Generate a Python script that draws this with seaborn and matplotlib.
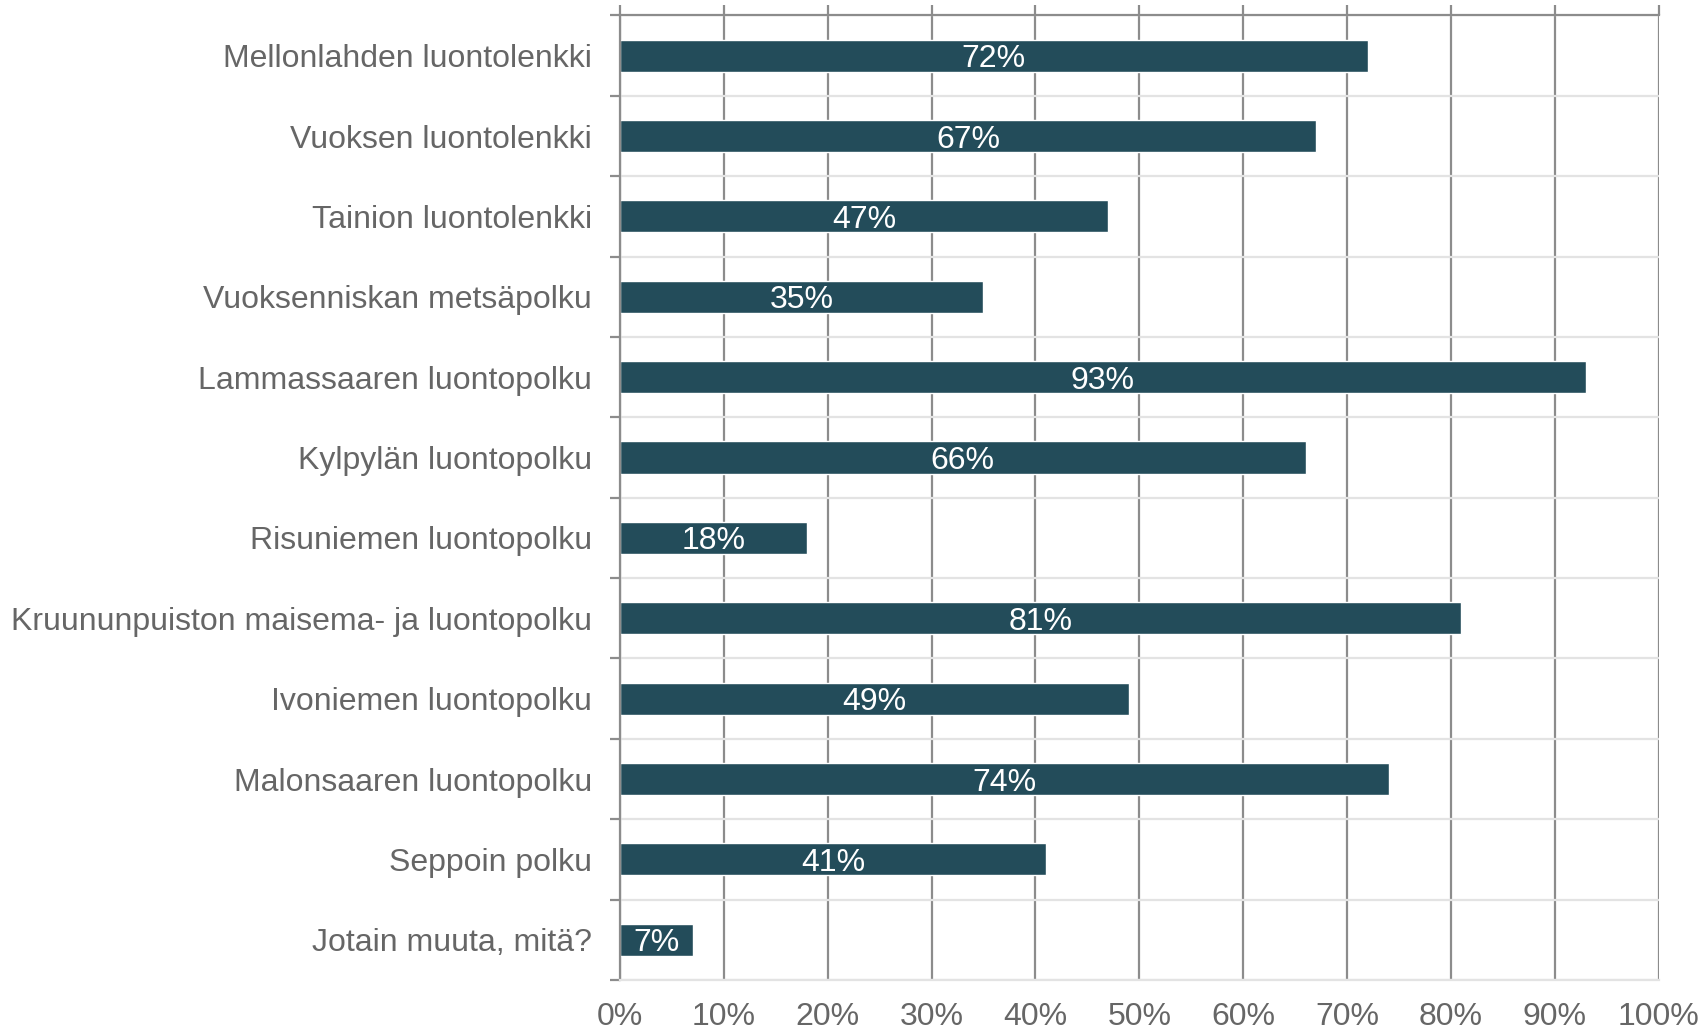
import numpy as np
import pandas as pd
import matplotlib
matplotlib.use("Agg")
import matplotlib.pyplot as plt
import seaborn as sns

# data
categories = [
    "Mellonlahden luontolenkki",
    "Vuoksen luontolenkki",
    "Tainion luontolenkki",
    "Vuoksenniskan metsäpolku",
    "Lammassaaren luontopolku",
    "Kylpylän luontopolku",
    "Risuniemen luontopolku",
    "Kruununpuiston maisema- ja luontopolku",
    "Ivoniemen luontopolku",
    "Malonsaaren luontopolku",
    "Seppoin polku",
    "Jotain muuta, mitä?",
]
values = [72, 67, 47, 35, 93, 66, 18, 81, 49, 74, 41, 7]
x_ticks = list(range(0, 101, 10))

df = pd.DataFrame({"route": categories, "pct": values})

sns.set_style("white")
plt.rcParams["font.family"] = ["Liberation Sans", "DejaVu Sans"]

bar_color = "#234C5A"
text_color = "#666666"
dark_grid = "#8C8C8C"
light_grid = "#E3E3E3"
fs = 23

fig = plt.figure(figsize=(17.03, 10.31), dpi=100)
ax = fig.add_axes([0.364, 0.0495, 0.610, 0.9355])

sns.barplot(data=df, x="pct", y="route", orient="h", color=bar_color,
            width=0.4, saturation=1, ax=ax)

# value labels inside bars
for i, v in enumerate(values):
    ax.text(v / 2, i, f"{v}%", ha="center", va="center_baseline",
            color="white", fontsize=fs)

ax.set_xlim(0, 100)
ax.set_ylim(len(categories) - 0.5, -0.5)
ax.set_xlabel("")
ax.set_ylabel("")

ax.set_xticks(x_ticks)
ax.set_xticklabels([f"{t}%" for t in x_ticks])
ax.xaxis.grid(True, color=dark_grid, linewidth=1.6)
ax.tick_params(axis="x", bottom=False, top=True, labelbottom=True,
               labeltop=False, length=7, width=1.6, color=dark_grid,
               labelsize=fs, labelcolor=text_color, pad=9)

# category separators
ax.set_yticks(np.arange(len(categories) + 1) - 0.5, minor=True)
ax.yaxis.grid(True, which="minor", color=light_grid, linewidth=1.6)
ax.tick_params(axis="y", which="minor", left=True, length=7, width=1.6,
               color=dark_grid)
ax.tick_params(axis="y", which="major", length=0, labelsize=fs,
               labelcolor=text_color, pad=20)
ax.set_axisbelow(True)

for side in ["left", "top"]:
    ax.spines[side].set_color(dark_grid)
    ax.spines[side].set_linewidth(1.6)
ax.spines["bottom"].set_color(light_grid)
ax.spines["bottom"].set_linewidth(1.6)
ax.spines["right"].set_visible(False)

fig.savefig("out.png", dpi=100)
